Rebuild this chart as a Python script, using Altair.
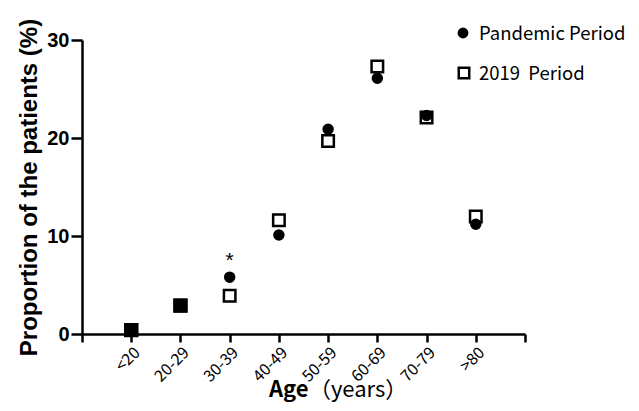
import json
import altair as alt
import pandas as pd

# ---- data ----
categories = ["<20", "20-29", "30-39", "40-49", "50-59", "60-69", "70-79", ">80"]
pandemic = [0.4, 2.9, 5.8, 10.1, 20.9, 26.1, 22.3, 11.2]
period2019 = [0.4, 2.9, 3.9, 11.6, 19.7, 27.3, 22.1, 12.0]
series_names = ["Pandemic Period", "2019\u00a0 Period"]
y_ticks = [0, 10, 20, 30]
star_categories = ["30-39"]
x_title_bold = "Age"
x_title_rest = "\uff08years\uff09"
y_title = "Proportion of the patients (%)"

# ---- tables ----
rows = []
for i, c in enumerate(categories):
    same = pandemic[i] == period2019[i]
    rows.append({"cat": c, "pos": i + 1, "value": pandemic[i], "series": series_names[0], "overlap": same})
    rows.append({"cat": c, "pos": i + 1, "value": period2019[i], "series": series_names[1], "overlap": same})
df = pd.DataFrame(rows)
df_p = df[df.series == series_names[0]]
df_s = df[df.series == series_names[1]]
df_ov = df_s[df_s.overlap]
df_star = df_p[df_p.cat.isin(star_categories)]

n = len(categories)
label_expr = json.dumps([""] + categories + [""]) + "[datum.value]"

x_enc = alt.X("pos:Q", scale=alt.Scale(domain=[0, n + 1], nice=False, zero=False),
              axis=alt.Axis(values=list(range(0, n + 2)), labelExpr=label_expr, title=None,
                            labelAngle=-45, labelFont="Noto Sans CJK SC", labelFontSize=16,
                            labelColor="black", labelPadding=2, tickSize=8,
                            labelFlush=False, labelOverlap=False, labelBound=False))
y_enc = alt.Y("value:Q", scale=alt.Scale(domain=[0, 30], nice=False),
              axis=alt.Axis(values=y_ticks, title=y_title,
                            titleFont="Liberation Sans", titleFontSize=24, titleFontWeight="bold",
                            titleColor="black", titlePadding=5,
                            labelFont="Liberation Sans", labelFontSize=20, labelFontWeight="bold",
                            labelColor="black", tickSize=11, labelPadding=2))

PT = dict(filled=True, stroke="black", strokeWidth=2.5, opacity=1)

squares = alt.Chart(df_s).mark_point(shape="square", fill="white", size=132, **PT).encode(
    x=x_enc, y=y_enc)
overlap = alt.Chart(df_ov).mark_point(shape="square", fill="black", size=140, **PT).encode(
    x="pos:Q", y="value:Q")
circles = alt.Chart(df_p).mark_point(shape="circle", fill="black", size=80, **PT).encode(
    x="pos:Q", y="value:Q")
star = alt.Chart(df_star).mark_text(text="*", font="Liberation Sans", fontSize=21,
                                    baseline="middle", dy=-16, color="black").encode(
    x="pos:Q", y="value:Q")

# x-axis title (bold word + regular part)
t1 = alt.Chart(pd.DataFrame({"t": [x_title_bold]})).mark_text(
    font="Noto Sans CJK SC", fontSize=22, fontWeight="bold", align="left",
    baseline="alphabetic", color="black").encode(
    text="t:N", x=alt.value(187), y=alt.value(357))
t2 = alt.Chart(pd.DataFrame({"t": [x_title_rest]})).mark_text(
    font="Noto Sans CJK SC", fontSize=22, align="left",
    baseline="alphabetic", color="black").encode(
    text="t:N", x=alt.value(227), y=alt.value(357))

# legend (top right, outside the plot area)
leg_c = alt.Chart(pd.DataFrame({"s": [series_names[0]]})).mark_point(
    shape="circle", fill="black", size=70, **PT).encode(x=alt.value(381), y=alt.value(-7))
leg_s = alt.Chart(pd.DataFrame({"s": [series_names[1]]})).mark_point(
    shape="square", fill="white", size=110, **PT).encode(x=alt.value(382), y=alt.value(33))
leg_t1 = alt.Chart(pd.DataFrame({"s": [series_names[0]]})).mark_text(
    font="Noto Sans CJK SC", fontSize=18.5, align="left", baseline="alphabetic", color="black").encode(
    text="s:N", x=alt.value(397), y=alt.value(0))
leg_t2 = alt.Chart(pd.DataFrame({"s": [series_names[1]]})).mark_text(
    font="Noto Sans CJK SC", fontSize=18.5, align="left", baseline="alphabetic", color="black").encode(
    text="s:N", x=alt.value(397), y=alt.value(40))

chart = alt.layer(squares, overlap, circles, star, t1, t2, leg_c, leg_s, leg_t1, leg_t2).properties(
    width=443, height=294,
    autosize=alt.AutoSizeParams(type="none"),
    padding={"left": 74, "top": 32, "right": 106, "bottom": 69},
).configure_view(stroke=None).configure_axis(
    grid=False, domainColor="black", domainWidth=2.5, tickColor="black", tickWidth=2.5,
)

chart.save("out.html", embed_options={"renderer": "svg", "actions": False})
